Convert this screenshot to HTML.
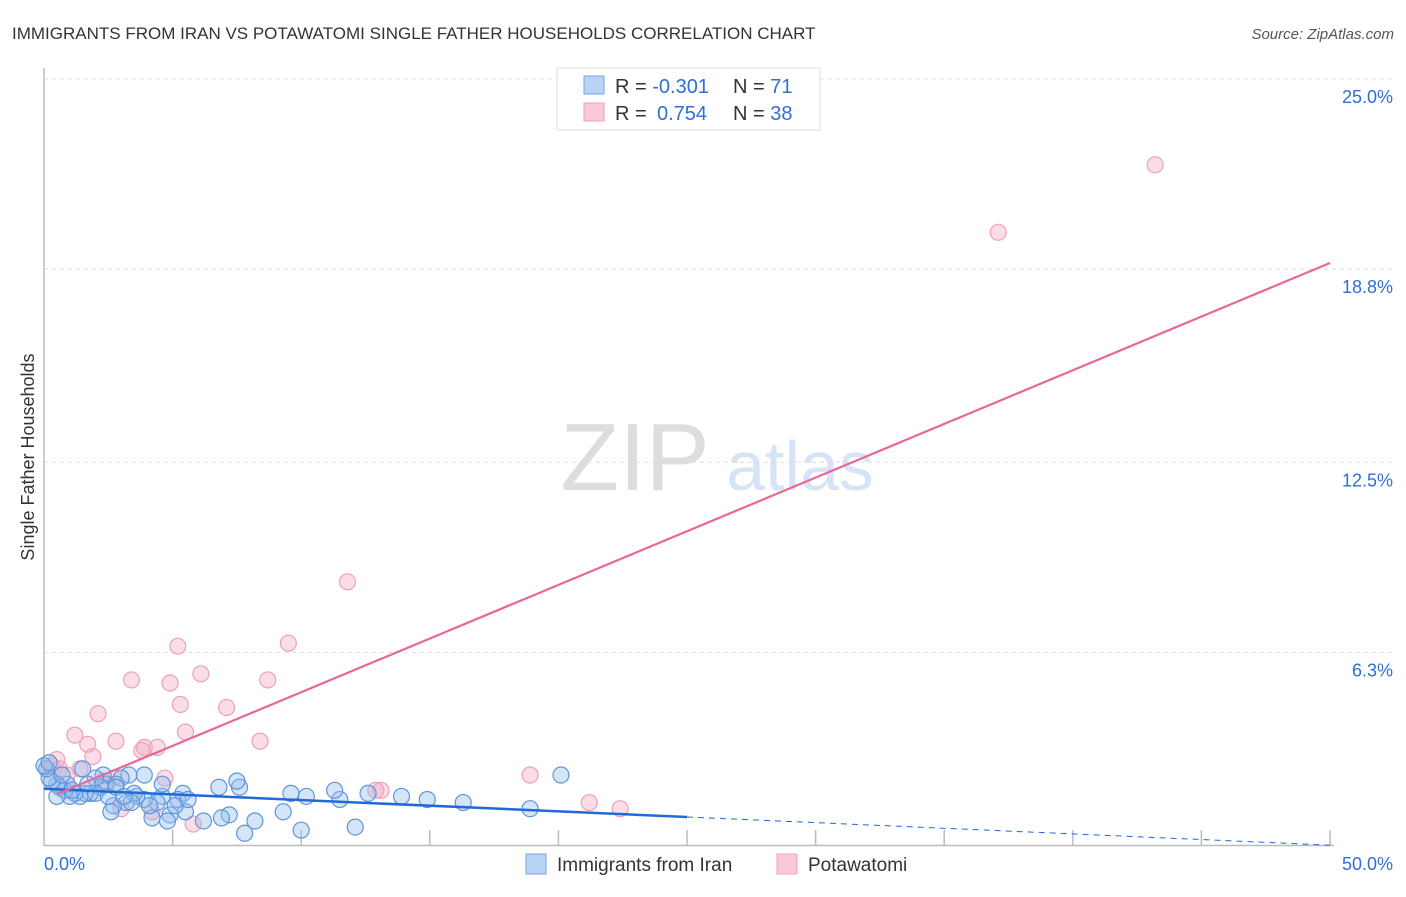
<!DOCTYPE html>
<html><head><meta charset="utf-8"><style>
body{margin:0;background:#fff;font-family:"Liberation Sans",sans-serif;}
svg text{font-family:"Liberation Sans",sans-serif;}
</style></head><body>
<svg width="1406" height="892" viewBox="0 0 1406 892" id="chart">
<text x="12" y="39" font-size="17" fill="#333">IMMIGRANTS FROM IRAN VS POTAWATOMI SINGLE FATHER HOUSEHOLDS CORRELATION CHART</text>
<text x="1394" y="39" font-size="15" fill="#555" font-style="italic" text-anchor="end">Source: ZipAtlas.com</text>
<text transform="translate(34,457) rotate(-90)" font-size="18" fill="#333" text-anchor="middle">Single Father Households</text>
<g>
<text x="635" y="490" font-size="96" fill="#ddd" font-family="Liberation Serif" text-anchor="middle">ZIP</text>
<text x="800" y="490" font-size="70" fill="#d6e4f5" text-anchor="middle">atlas</text>
</g>
<g id="grid"></g>
<g id="marks"></g>
<g>
<rect x="557" y="68" width="263" height="62" fill="#fff" stroke="#ddd"/>
<rect x="584" y="76" width="20" height="18" fill="#b8d3f5" stroke="#7aa6e3"/>
<rect x="584" y="103" width="20" height="18" fill="#f9c9d8" stroke="#eea3bb"/>
<text x="615" y="93" font-size="20" fill="#333">R = <tspan fill="#2f6fd6">-0.301</tspan></text>
<text x="733" y="93" font-size="20" fill="#333">N = <tspan fill="#2f6fd6">71</tspan></text>
<text x="615" y="120" font-size="20" fill="#333">R = <tspan fill="#2f6fd6" x="657">0.754</tspan></text>
<text x="733" y="120" font-size="20" fill="#333">N = <tspan fill="#2f6fd6">38</tspan></text>
</g>
<g>
<rect x="526" y="854" width="20" height="20" fill="#b8d3f5" stroke="#7aa6e3"/>
<text x="557" y="871" font-size="19" fill="#333">Immigrants from Iran</text>
<rect x="777" y="854" width="20" height="20" fill="#f9c9d8" stroke="#eea3bb"/>
<text x="808" y="871" font-size="19" fill="#333">Potawatomi</text>
</g>
</svg>
<script>
const yTicks=[6.3,12.5,18.8,25.0];
const xTickLabels=["0.0%","50.0%"];
const blueX=[20.1,18.9,16.3,14.9,13.9,12.6,11.5,11.3,12.1,10.2,9.6,10.0,9.3,8.2,7.8,7.6,7.5,6.8,7.2,6.9,6.2,5.5,5.4,5.2,4.9,4.8,4.6,4.6,4.4,4.2,3.9,3.9,3.6,3.5,3.3,3.2,3.0,2.8,2.7,2.6,2.4,2.3,2.2,2.0,1.8,1.6,1.4,1.2,1.0,0.9,0.8,0.6,0.5,0.3,0.2,0.1,0.0,0.2,0.7,1.5,2.0,2.5,3.4,4.1,5.1,5.6,0.5,1.1,1.7,2.8,3.1];
const blueY=[2.3,1.2,1.4,1.5,1.6,1.7,1.5,1.8,0.6,1.6,1.7,0.5,1.1,0.8,0.4,1.9,2.1,1.9,1.0,0.9,0.8,1.1,1.7,1.5,1.0,0.8,1.6,2.0,1.4,0.9,1.5,2.3,1.6,1.7,2.3,1.4,2.2,2.0,1.3,1.1,2.0,2.3,1.9,1.7,1.7,1.7,1.6,1.7,1.6,2.0,1.8,1.9,2.0,2.1,2.2,2.5,2.6,2.7,2.3,2.5,2.2,1.6,1.4,1.3,1.3,1.5,1.6,1.8,2.0,1.9,1.6];
const pinkX=[43.2,37.1,11.8,9.5,5.2,6.1,3.4,4.9,8.7,5.3,7.1,2.1,1.2,5.5,8.4,2.8,1.7,3.9,4.4,3.8,1.9,0.3,0.6,1.4,4.7,18.9,13.1,12.9,21.2,22.4,3.0,5.8,4.2,2.7,0.1,0.9,2.3,0.5];
const pinkY=[22.2,20.0,8.6,6.6,6.5,5.6,5.4,5.3,5.4,4.6,4.5,4.3,3.6,3.7,3.4,3.4,3.3,3.2,3.2,3.1,2.9,2.6,2.5,2.5,2.2,2.3,1.8,1.8,1.4,1.2,1.2,0.7,1.1,2.2,2.5,2.3,2.1,2.8];
const blueFit=[1.85,-0.0368];
const pinkFit=[1.5,0.35];
const X0=44,X1=1330,Y0=845.5,Y1=79;
const sx=v=>X0+(X1-X0)*v/50, sy=v=>Y0-(Y0-Y1)*v/25;
const NS="http://www.w3.org/2000/svg";
function mk(t,a,p){const e=document.createElementNS(NS,t);for(const k in a)e.setAttribute(k,a[k]);p.appendChild(e);return e;}
const g=document.getElementById('grid'),m=document.getElementById('marks');
// axes
let ax=mk('line',{x1:X0,y1:68,x2:X0,y2:Y0,stroke:'#bbb','stroke-width':1.5},g);


let bx=mk('line',{x1:X0,y1:Y0,x2:X1+4,y2:Y0,stroke:'#bbb','stroke-width':1.5},g);


for(let k=1;k<=10;k++){const t=mk('line',{x1:sx(k*5),y1:830,x2:sx(k*5),y2:Y0,stroke:'#bbb','stroke-width':1.5},g);

}
yTicks.forEach(v=>{const yy=sy(v*(v===25?1:1));const l=mk('line',{x1:X0,y1:yy,x2:1394,y2:yy,stroke:'#ddd','stroke-dasharray':'4,4'},g);


const t=mk('text',{x:1393,y:yy+24,'font-size':18,fill:'#2f6fd6','text-anchor':'end'},g);t.textContent=v.toFixed(1)+'%';

});
xTickLabels.forEach((s,i)=>{const t=mk('text',{x:i?1393:44,y:870,'font-size':18,fill:'#2f6fd6','text-anchor':i?'end':'start'},g);t.textContent=s;

});
// points
pinkX.forEach((x,i)=>{const c=mk('circle',{cx:sx(x),cy:sy(pinkY[i]),r:8,fill:'rgba(246,170,196,0.4)',stroke:'#eda0b9','stroke-width':1.2},m);

});
blueX.forEach((x,i)=>{const c=mk('circle',{cx:sx(x),cy:sy(blueY[i]),r:8,fill:'rgba(150,190,238,0.4)',stroke:'#5e95dd','stroke-width':1.2},m);

});
// trend lines
const bl=mk('line',{x1:sx(0),y1:sy(blueFit[0]),x2:sx(25),y2:sy(blueFit[0]+blueFit[1]*25),stroke:'#1f6ad6','stroke-width':2.5},m);


const bd=mk('line',{x1:sx(25),y1:sy(blueFit[0]+blueFit[1]*25),x2:sx(50),y2:sy(blueFit[0]+blueFit[1]*50),stroke:'#1f6ad6','stroke-width':1,'stroke-dasharray':'6,5'},m);


const pl=mk('line',{x1:sx(0.5),y1:sy(pinkFit[0]+pinkFit[1]*0.5),x2:sx(50),y2:sy(pinkFit[0]+pinkFit[1]*50),stroke:'#e8669a','stroke-width':2.2},m);


</script>
</body></html>
